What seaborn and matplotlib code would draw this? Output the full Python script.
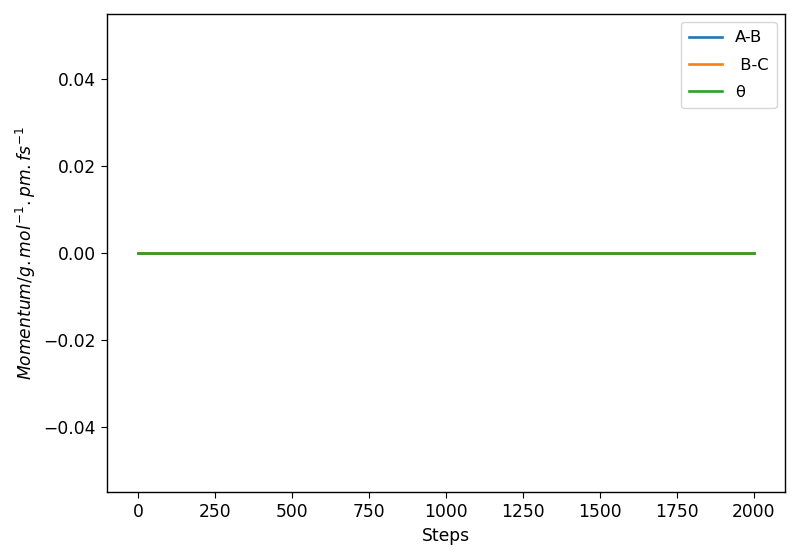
import matplotlib
matplotlib.use("Agg")
import matplotlib.pyplot as plt
import seaborn as sns
import pandas as pd

# momentum traces (flat at zero across the run)
steps = [0, 250, 500, 750, 1000, 1250, 1500, 1750, 2000]
p_ab = [0.0, 0.0, 0.0, 0.0, 0.0, 0.0, 0.0, 0.0, 0.0]
p_bc = [0.0, 0.0, 0.0, 0.0, 0.0, 0.0, 0.0, 0.0, 0.0]
p_theta = [0.0, 0.0, 0.0, 0.0, 0.0, 0.0, 0.0, 0.0, 0.0]
labels = ["A-B", " B-C", "θ"]
colors = ["#1f77b4", "#ff7f0e", "#2ca02c"]

df = pd.DataFrame({
    "Steps": steps * 3,
    "Momentum": p_ab + p_bc + p_theta,
    "series": [labels[0]] * len(steps) + [labels[1]] * len(steps) + [labels[2]] * len(steps),
})

# original was rendered at a higher dpi, so scale text/lines up
plt.rcParams["font.size"] = 12.3
plt.rcParams["legend.fontsize"] = 11.8
plt.rcParams["axes.linewidth"] = 1.0
plt.rcParams["xtick.major.size"] = 4.5
plt.rcParams["ytick.major.size"] = 4.5

fig, ax = plt.subplots(figsize=(8, 5.56), dpi=100)
fig.subplots_adjust(left=0.134, right=0.981, top=0.975, bottom=0.115)

sns.lineplot(data=df, x="Steps", y="Momentum", hue="series",
             palette=dict(zip(labels, colors)), ax=ax, linewidth=1.9)

ax.set_ylim(-0.055, 0.055)
ax.set_xticks([0, 250, 500, 750, 1000, 1250, 1500, 1750, 2000])
ax.set_yticks([-0.04, -0.02, 0.0, 0.02, 0.04])
ax.set_xlabel("Steps")
ax.set_ylabel(r"$Momentum/g.mol^{-1}.pm.fs^{-1}$")
ax.legend(title=None, loc="upper right", labelspacing=0.75, borderpad=0.5)

plt.savefig("out.png", dpi=100)
plt.close()
